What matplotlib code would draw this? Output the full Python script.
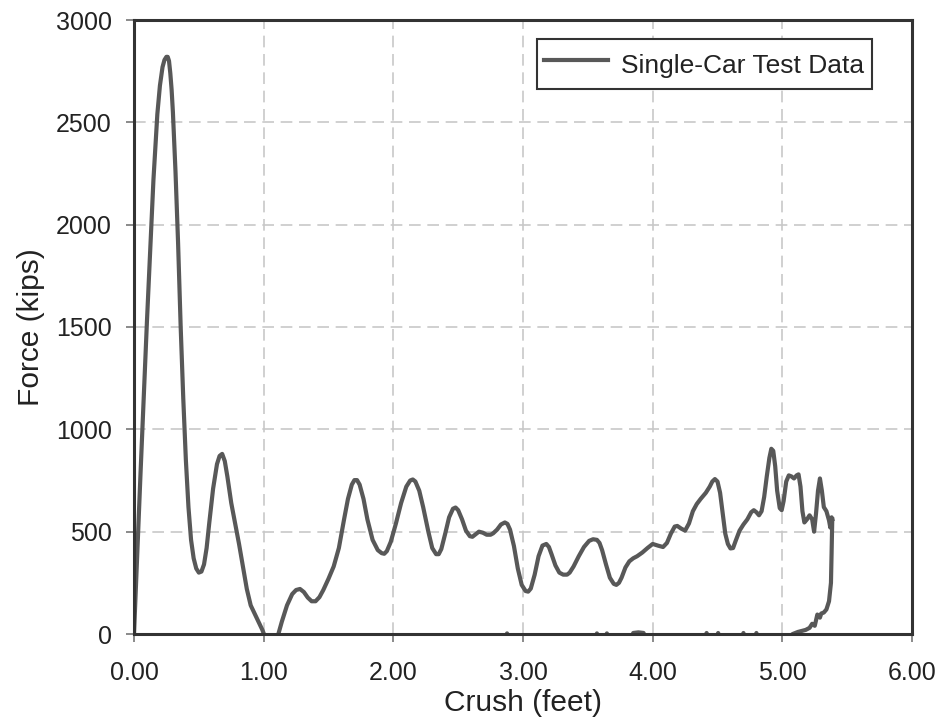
import numpy as np
import matplotlib
matplotlib.use("Agg")
import matplotlib.pyplot as plt

plt.rcParams['font.family'] = ['Liberation Sans', 'DejaVu Sans']

# loading curve (crush in feet, force in kips)
crush = [
    0.00, 0.05, 0.10, 0.15, 0.18, 0.20, 0.22, 0.235, 0.25, 0.26,
    0.27, 0.28, 0.29, 0.30, 0.32, 0.34, 0.36, 0.38, 0.40, 0.42,
    0.44, 0.46, 0.48, 0.50, 0.52, 0.54, 0.56, 0.58, 0.61, 0.64,
    0.66, 0.68, 0.70, 0.72, 0.75, 0.78, 0.81, 0.84, 0.87, 0.90,
    0.93, 0.96, 0.99, 1.02, 1.10, 1.14, 1.18, 1.22, 1.25, 1.28,
    1.31, 1.34, 1.37, 1.40, 1.43, 1.46, 1.50, 1.54, 1.58, 1.62,
    1.65, 1.68, 1.70, 1.72, 1.74, 1.77, 1.80, 1.84, 1.88, 1.91,
    1.93, 1.95, 1.98, 2.02, 2.06, 2.10, 2.13, 2.15, 2.17, 2.20,
    2.23, 2.27, 2.30, 2.33, 2.35, 2.37, 2.40, 2.43, 2.46, 2.48,
    2.50, 2.53, 2.56, 2.59, 2.61, 2.63, 2.66, 2.69, 2.72, 2.75,
    2.77, 2.80, 2.83, 2.86, 2.88, 2.90, 2.93, 2.96, 2.99, 3.02,
    3.04, 3.06, 3.09, 3.12, 3.15, 3.18, 3.20, 3.22, 3.25, 3.28,
    3.31, 3.34, 3.36, 3.39, 3.43, 3.47, 3.51, 3.54, 3.57, 3.59,
    3.61, 3.64, 3.67, 3.70, 3.72, 3.74, 3.76, 3.79, 3.82, 3.85,
    3.88, 3.92, 3.96, 4.00, 4.04, 4.08, 4.11, 4.14, 4.17, 4.19,
    4.22, 4.25, 4.28, 4.31, 4.34, 4.37, 4.41, 4.44, 4.46, 4.48,
    4.50, 4.52, 4.54, 4.56, 4.58, 4.60, 4.62, 4.64, 4.67, 4.70,
    4.73, 4.76, 4.78, 4.80, 4.82, 4.84, 4.86, 4.88, 4.90, 4.915,
    4.93, 4.945, 4.96, 4.98, 4.995, 5.01, 5.03, 5.05, 5.07, 5.09,
    5.11, 5.125, 5.14, 5.155, 5.17, 5.19, 5.21, 5.23, 5.245, 5.26,
    5.275, 5.29, 5.305, 5.32, 5.34, 5.36, 5.37, 5.38, 5.385,
]
force = [
    0, 780, 1530, 2220, 2540, 2680, 2770, 2805, 2820, 2820,
    2800, 2740, 2660, 2550, 2260, 1910, 1500, 1150, 850, 620,
    460, 370, 320, 300, 305, 340, 420, 540, 710, 830,
    870, 880, 845, 770, 640, 540, 440, 330, 220, 140,
    100, 60, 20, -30, -30, 60, 140, 195, 215, 220,
    205, 178, 160, 160, 180, 215, 270, 330, 420, 560,
    660, 730, 752, 752, 730, 660, 560, 460, 410, 395,
    392, 405, 450, 540, 640, 720, 750, 755, 745, 700,
    620, 500, 420, 390, 390, 415, 490, 570, 612, 618,
    605, 560, 505, 478, 475, 485, 500, 495, 485, 485,
    492, 510, 535, 545, 538, 510, 430, 320, 240, 210,
    207, 222, 290, 380, 432, 440, 425, 390, 335, 300,
    290, 290, 300, 330, 380, 425, 455, 463, 460, 445,
    410, 340, 275, 245, 240, 250, 275, 325, 355, 370,
    380, 398, 420, 440, 432, 425, 445, 490, 525, 528,
    515, 505, 540, 600, 635, 660, 690, 720, 745, 757,
    745, 690, 590, 490, 440, 418, 420, 455, 505, 535,
    560, 595, 605, 595, 580, 600, 670, 770, 860, 905,
    895, 820, 700, 615, 605, 650, 745, 775, 770, 760,
    775, 780, 720, 600, 545, 560, 580, 560, 500, 590,
    700, 760, 700, 620, 600, 555, 520, 570, 560,
]

# unloading branch, drops back to zero and trails along the axis
unload_crush = [
    5.385, 5.38, 5.375, 5.36, 5.34, 5.32, 5.30, 5.29, 5.27, 5.25,
    5.23, 5.21, 5.18, 5.15, 5.12, 5.08, 5.00, 4.82, 4.80, 4.78,
    4.72, 4.70, 4.68, 4.53, 4.505, 4.48, 4.44, 4.416, 4.39, 3.95,
    3.93, 3.89, 3.85, 3.83, 3.67, 3.647, 3.62, 3.59, 3.57, 3.55,
    2.90, 2.877, 2.85,
]
unload_force = [
    560, 400, 250, 160, 120, 105, 100, 80, 95, 40,
    50, 30, 20, 15, 10, 0, -40, -40, 5, -40,
    -40, 5, -40, -40, 5, -40, -40, 5, -40, -40,
    5, 8, 5, -40, -40, 3, -40, -40, 3, -40,
    -40, 3, -40,
]

x_ticks = [0, 1, 2, 3, 4, 5, 6]
x_labels = ['0.00', '1.00', '2.00', '3.00', '4.00', '5.00', '6.00']
y_ticks = [0, 500, 1000, 1500, 2000, 2500, 3000]

line_color = '#585858'

fig = plt.figure(figsize=(9.42, 7.23), dpi=100)
ax = fig.add_axes([134 / 942, 89 / 723, 778 / 942, 614 / 723])

ax.plot(crush, force, color=line_color, lw=3.0, solid_joinstyle='round',
        label='Single-Car Test Data', zorder=3)
ax.plot(unload_crush, unload_force, color=line_color, lw=3.0,
        solid_joinstyle='round', zorder=3)

ax.set_xlim(0, 6)
ax.set_ylim(0, 3000)
ax.set_xticks(x_ticks)
ax.set_xticklabels(x_labels)
ax.set_yticks(y_ticks)

ax.grid(True, color='#c8c8c8', lw=1.2, linestyle=(0, (7, 4)), zorder=0)
ax.set_axisbelow(True)

for sp in ax.spines.values():
    sp.set_linewidth(2.2)
    sp.set_color('#333333')
    sp.set_zorder(4)

ax.tick_params(direction='out', length=6, width=1.2, color='#777777',
               labelsize=18, labelcolor='#222222')
ax.tick_params(axis='x', pad=13.5)
ax.tick_params(axis='y', pad=10)

ax.set_xlabel('Crush (feet)', fontsize=21.5, color='#222222', labelpad=3)
ax.set_ylabel('Force (kips)', fontsize=21.5, color='#222222', labelpad=8)

leg = ax.legend(loc='upper right', bbox_to_anchor=(0.9486, 0.969),
                borderaxespad=0, fontsize=19, fancybox=False,
                handlelength=2.4, handleheight=1.6, handletextpad=0.5,
                borderpad=0.3, framealpha=1)
leg.get_frame().set_edgecolor('#333333')
leg.get_frame().set_linewidth(1.5)
for t in leg.get_texts():
    t.set_color('#222222')

fig.savefig('out.png', dpi=100)
